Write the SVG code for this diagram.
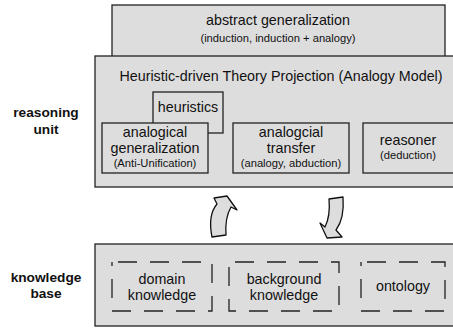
<svg xmlns="http://www.w3.org/2000/svg" width="453" height="329" viewBox="0 0 453 329">
<style>
.box{fill:#dddddd;stroke:#222;stroke-width:1.3}
.dash{fill:none;stroke:#222;stroke-width:1.3;stroke-dasharray:19 13;stroke-dashoffset:26}
text{font-family:"Liberation Sans",Arial,sans-serif;fill:#111;text-anchor:middle}
.t1{font-size:14.3px}
.t2{font-size:11.2px}
.lb{font-size:13.7px;font-weight:bold}
.arr{fill:#dddddd;stroke:#111;stroke-width:1.3;stroke-linejoin:round}
</style>
<rect width="453" height="329" fill="#fff"/>
<g id="labels">
<text class="lb" x="46" y="117">reasoning</text>
<text class="lb" x="46" y="134">unit</text>
<text class="lb" x="46" y="282">knowledge</text>
<text class="lb" x="46" y="298">base</text>
</g>
<g id="abstract">
<rect class="box" x="112" y="5" width="333" height="60"/>
<text class="t1" x="278" y="25">abstract generalization</text>
<text class="t2" x="278" y="42">(induction, induction + analogy)</text>
</g>
<g id="htp">
<rect class="box" x="95" y="56" width="362" height="131"/>
<text class="t1" x="281" y="81">Heuristic-driven Theory Projection (Analogy Model)</text>
</g>
<g id="heuristics">
<rect class="box" x="153" y="92" width="70" height="41"/>
<text class="t1" x="188" y="112">heuristics</text>
</g>
<g id="analogical-generalization">
<rect class="box" x="102" y="123" width="106" height="50"/>
<text class="t1" x="155" y="137">analogical</text>
<text class="t1" x="155" y="153">generalization</text>
<text class="t2" x="155" y="167">(Anti-Unification)</text>
</g>
<g id="analogical-transfer">
<rect class="box" x="233" y="123" width="116" height="50"/>
<text class="t1" x="291" y="137">analogcial</text>
<text class="t1" x="291" y="153">transfer</text>
<text class="t2" x="291" y="167">(analogy, abduction)</text>
</g>
<g id="reasoner">
<rect class="box" x="363" y="123" width="94" height="50"/>
<text class="t1" x="408" y="145">reasoner</text>
<text class="t2" x="408" y="159">(deduction)</text>
</g>
<g id="connectors">
<path class="arr" d="M212,237 C209,222 211,211 217,204 L214,198 L227,196 L237,210 L231,207 C227,214 225,222 226,235 Z"/>
<path class="arr" d="M329,199 L343,197 C344,210 342,222 336,230 L342,237 L327,238 L320,223 L325,227 C329,219 330,210 329,199 Z"/>
</g>
<g id="knowledge-base">
<rect class="box" x="95" y="244" width="362" height="82"/>
</g>
<g id="domain-knowledge">
<rect class="dash" x="112" y="262" width="100" height="49"/>
<text class="t1" x="162" y="284">domain</text>
<text class="t1" x="162" y="300">knowledge</text>
</g>
<g id="background-knowledge">
<rect class="dash" x="229" y="262" width="110" height="49"/>
<text class="t1" x="284" y="284">background</text>
<text class="t1" x="284" y="300">knowledge</text>
</g>
<g id="ontology">
<rect class="dash" x="361" y="262" width="84" height="49"/>
<text class="t1" x="403" y="291">ontology</text>
</g>
</svg>
